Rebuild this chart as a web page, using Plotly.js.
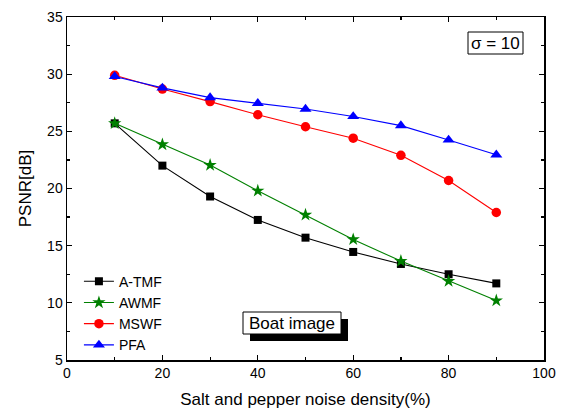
<!DOCTYPE html>
<html>
<head>
<meta charset="utf-8">
<script src="https://cdn.plot.ly/plotly-3.0.1.min.js"></script>
<style>html,body{margin:0;padding:0;background:#fff}#chart{width:561px;height:412px}</style>
</head>
<body>
<div id="chart"></div>
<script>
const density = [10, 20, 30, 40, 50, 60, 70, 80, 90];
const atmf = [25.7, 22.0, 19.3, 17.25, 15.7, 14.45, 13.4, 12.5, 11.7];
const awmf = [25.7, 23.85, 22.05, 19.8, 17.7, 15.55, 13.65, 11.9, 10.2];
const mswf = [29.9, 28.7, 27.6, 26.45, 25.4, 24.4, 22.9, 20.7, 17.9];
const pfa  = [29.8, 28.8, 27.95, 27.45, 26.95, 26.3, 25.5, 24.25, 22.95];
const xTicks = [0, 20, 40, 60, 80, 100];
const yTicks = [5, 10, 15, 20, 25, 30, 35];

const font = "Liberation Sans, Arial, sans-serif";
function tr(name, y, color, symbol, size) {
  return {x: density, y: y, name: name, type: 'scatter', mode: 'lines+markers',
    line: {color: color, width: 1.1},
    marker: {symbol: symbol, size: size, color: color}};
}
const data = [
  tr('A-TMF', atmf, '#000000', 'square', 8),
  tr('AWMF', awmf, '#008000', 'star', 10),
  tr('MSWF', mswf, '#ff0000', 'circle', 9.5),
  tr('PFA', pfa, '#0000ff', 'triangle-up', 10.5)
];
const axisCommon = {
  showgrid: false, zeroline: false, showline: true, linecolor: '#000', linewidth: 1.5,
  mirror: 'allticks', ticks: 'inside', ticklen: 5, tickwidth: 1.2, tickcolor: '#000',
  tickfont: {family: font, size: 14, color: '#000'}
};
const layout = {
  width: 561, height: 412,
  margin: {l: 67, r: 17, t: 17, b: 52},
  paper_bgcolor: '#fff', plot_bgcolor: '#fff',
  showlegend: true,
  legend: {x: 0.025, y: 0.275, xanchor: 'left', yanchor: 'top', bgcolor: 'rgba(0,0,0,0)',
    font: {family: font, size: 14, color: '#000'}, tracegroupgap: 0, itemwidth: 30},
  xaxis: Object.assign({}, axisCommon, {range: [0, 100], tickvals: xTicks,
    minor: {dtick: 10, tick0: 0, ticks: 'inside', ticklen: 3, tickcolor: '#000'},
    title: {text: 'Salt and pepper noise density(%)', font: {family: font, size: 17, color: '#000'}, standoff: 13}}),
  yaxis: Object.assign({}, axisCommon, {range: [5, 35], tickvals: yTicks,
    minor: {dtick: 2.5, tick0: 5, ticks: 'inside', ticklen: 3, tickcolor: '#000'},
    title: {text: 'PSNR[dB]', font: {family: font, size: 17, color: '#000'}, standoff: 11}}),
  shapes: [
    {type: 'rect', xref: 'paper', yref: 'paper', x0: (250-67)/477, x1: (348-67)/477, y0: (360-341)/343, y1: (360-319)/343,
      fillcolor: '#000', line: {width: 0}},
    {type: 'rect', xref: 'paper', yref: 'paper', x0: (243-67)/477, x1: (341-67)/477, y0: (360-334)/343, y1: (360-312)/343,
      fillcolor: '#fff', line: {color: '#000', width: 1}},
    {type: 'rect', xref: 'paper', yref: 'paper', x0: (468-67)/477, x1: (523-67)/477, y0: (360-54)/343, y1: (360-32)/343,
      fillcolor: '#fff', line: {color: '#000', width: 1}}
  ],
  annotations: [
    {xref: 'paper', yref: 'paper', x: (292-67)/477, y: (360-323)/343, xanchor: 'center', yanchor: 'middle',
      text: 'Boat image', showarrow: false, font: {family: font, size: 17, color: '#000'}},
    {xref: 'paper', yref: 'paper', x: (495.5-67)/477, y: (360-43)/343, xanchor: 'center', yanchor: 'middle',
      text: 'σ = 10', showarrow: false, font: {family: font, size: 17, color: '#000'}}
  ]
};
Plotly.newPlot('chart', data, layout, {displayModeBar: false, staticPlot: true});
</script>
</body>
</html>
